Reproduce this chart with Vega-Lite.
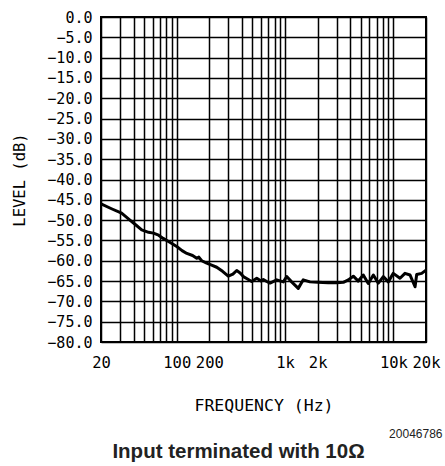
{
  "$schema": "https://vega.github.io/schema/vega-lite/v6.json",
  "width": 325,
  "height": 325,
  "autosize": {"type": "none"},
  "padding": {"left": 101, "top": 17, "right": 19, "bottom": 124},
  "background": "white",
  "title": {"text": "Input terminated with 10Ω", "orient": "bottom", "anchor": "middle", "font": "Liberation Sans", "fontSize": 20.5, "fontWeight": "bold", "color": "#222222", "dx": -25, "offset": 3},
  "data": {"values": [
    {"freq": 20, "level": -46.0},
    {"freq": 25, "level": -47.2},
    {"freq": 31, "level": -48.3},
    {"freq": 37, "level": -50.0},
    {"freq": 42, "level": -51.2},
    {"freq": 47.5, "level": -52.4},
    {"freq": 55, "level": -53.0},
    {"freq": 61, "level": -53.2},
    {"freq": 68, "level": -53.7},
    {"freq": 75, "level": -54.5},
    {"freq": 87, "level": -55.5},
    {"freq": 100, "level": -56.5},
    {"freq": 112, "level": -57.5},
    {"freq": 124, "level": -58.2},
    {"freq": 140, "level": -58.7},
    {"freq": 153, "level": -59.4},
    {"freq": 160, "level": -59.1},
    {"freq": 170, "level": -60.0},
    {"freq": 189, "level": -60.6},
    {"freq": 210, "level": -61.1},
    {"freq": 234, "level": -61.6},
    {"freq": 265, "level": -62.6},
    {"freq": 299, "level": -63.8},
    {"freq": 330, "level": -63.3},
    {"freq": 358, "level": -62.4},
    {"freq": 385, "level": -63.0},
    {"freq": 412, "level": -63.9},
    {"freq": 450, "level": -64.5},
    {"freq": 492, "level": -65.1},
    {"freq": 548, "level": -64.3},
    {"freq": 600, "level": -65.0},
    {"freq": 630, "level": -64.6},
    {"freq": 678, "level": -65.1},
    {"freq": 726, "level": -65.5},
    {"freq": 838, "level": -64.7},
    {"freq": 964, "level": -65.2},
    {"freq": 1036, "level": -63.9},
    {"freq": 1150, "level": -65.2},
    {"freq": 1324, "level": -66.8},
    {"freq": 1472, "level": -64.7},
    {"freq": 1698, "level": -65.2},
    {"freq": 2000, "level": -65.3},
    {"freq": 2500, "level": -65.4},
    {"freq": 3000, "level": -65.4},
    {"freq": 3452, "level": -65.3},
    {"freq": 3838, "level": -64.7},
    {"freq": 4266, "level": -63.8},
    {"freq": 4742, "level": -65.0},
    {"freq": 5272, "level": -63.5},
    {"freq": 5862, "level": -65.6},
    {"freq": 6532, "level": -63.5},
    {"freq": 7260, "level": -65.5},
    {"freq": 8072, "level": -63.9},
    {"freq": 8974, "level": -65.2},
    {"freq": 9978, "level": -63.1},
    {"freq": 11508, "level": -64.3},
    {"freq": 12794, "level": -63.1},
    {"freq": 14224, "level": -63.5},
    {"freq": 15850, "level": -66.4},
    {"freq": 16408, "level": -63.4},
    {"freq": 18240, "level": -63.1},
    {"freq": 20000, "level": -62.3}
  ]},
  "layer": [
    {
      "mark": {"type": "line", "color": "black", "strokeWidth": 3, "clip": true, "strokeJoin": "round"},
      "encoding": {
        "x": {
          "field": "freq", "type": "quantitative",
          "scale": {"type": "log", "domain": [20, 20000], "nice": false},
          "axis": {
            "title": "FREQUENCY (Hz)",
            "orient": "bottom",
            "values": [20, 30, 40, 50, 60, 70, 80, 90, 100, 200, 300, 400, 500, 600, 700, 800, 900, 1000, 2000, 3000, 4000, 5000, 6000, 7000, 8000, 9000, 10000, 20000],
            "labelExpr": "datum.value==20?'20':datum.value==100?'100':datum.value==200?'200':datum.value==1000?'1k':datum.value==2000?'2k':datum.value==10000?'10k':datum.value==20000?'20k':''",
            "grid": true, "gridColor": "black", "gridWidth": 1.5, "gridOpacity": 1,
            "ticks": false, "domain": false,
            "labelFont": "DejaVu Sans Mono", "labelFontSize": 15.5, "labelColor": "black",
            "labelPadding": 13, "labelFlush": false, "labelOverlap": false, "labelBound": false,
            "titleFont": "DejaVu Sans Mono", "titleFontSize": 16.5, "titleFontWeight": "normal", "titleColor": "black",
            "titleY": 63, "titleBaseline": "middle"
          }
        },
        "y": {
          "field": "level", "type": "quantitative",
          "scale": {"domain": [-80, 0], "nice": false, "zero": false},
          "axis": {
            "title": "LEVEL (dB)",
            "values": [-80, -75, -70, -65, -60, -55, -50, -45, -40, -35, -30, -25, -20, -15, -10, -5, 0],
            "format": ".1f",
            "grid": true, "gridColor": "black", "gridWidth": 1.5, "gridOpacity": 1,
            "ticks": false, "domain": false,
            "labelFont": "DejaVu Sans Mono", "labelFontSize": 15, "labelColor": "black",
            "labelPadding": 9, "labelFlush": false, "labelOverlap": false, "labelBound": false,
            "titleFont": "DejaVu Sans Mono", "titleFontSize": 15.5, "titleFontWeight": "normal", "titleColor": "black",
            "titleX": -82, "titleBaseline": "middle", "titleAngle": -90
          }
        }
      }
    },
    {
      "mark": {"type": "rule", "strokeOpacity": 0},
      "encoding": {
        "x": {
          "field": "freq", "type": "quantitative",
          "axis": {
            "orient": "bottom",
            "title": "20046786", "labels": false, "ticks": false, "domain": false, "grid": false,
            "titleFont": "Liberation Sans", "titleFontSize": 12, "titleFontWeight": "normal", "titleColor": "#222222",
            "titleAlign": "right", "titleAnchor": "end", "titleX": 341, "titleY": 91, "titleBaseline": "middle"
          }
        }
      }
    }
  ],
  "resolve": {"axis": {"x": "independent"}},
  "config": {"view": {"stroke": "black", "strokeWidth": 2}}
}
